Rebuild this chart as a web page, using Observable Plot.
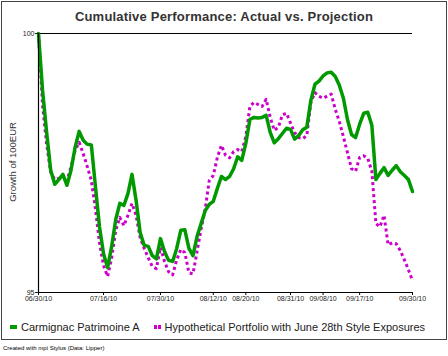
<!DOCTYPE html>
<html><head><meta charset="utf-8">
<script src="https://cdn.jsdelivr.net/npm/d3@7"></script>
<script src="https://cdn.jsdelivr.net/npm/@observablehq/plot@0.6"></script>
<style>
body{margin:0;background:#fff;font-family:Arial,"Liberation Sans",sans-serif;}
#wrap{position:relative;width:448px;height:356px;overflow:hidden;}
#frame{position:absolute;left:1px;top:1px;width:444px;height:337px;border:1px solid #444;}
#title{position:absolute;left:0;top:9px;width:448px;text-align:center;font-weight:bold;font-size:13px;color:#333;letter-spacing:0.2px;}
#ylab{position:absolute;left:12px;top:162px;transform:translate(-50%,-50%) rotate(-90deg);font-size:9.5px;color:#333;white-space:nowrap;}
#chart{position:absolute;left:0;top:0;}
#legend{position:absolute;left:10px;top:319px;font-size:11px;color:#222;white-space:nowrap;}
#legend span.item{display:inline-flex;align-items:center;margin-right:14px;}
#legend i{display:inline-block;width:7px;height:4px;margin-right:4px;}
#caption{position:absolute;left:3px;top:345px;font-size:6px;color:#000;}
</style></head>
<body>
<div id="wrap">
<div id="frame"></div>
<div id="title">Cumulative Performance: Actual vs. Projection</div>
<div id="ylab">Growth of 100EUR</div>
<div id="chart"></div>
<div id="legend"></div>
<div id="caption">Created with mpi Stylus (Data: Lipper)</div>
</div>
<script>
const seriesNames = ["Carmignac Patrimoine A", "Hypothetical Portfolio with June 28th Style Exposures"];
const seriesColors = ["#009900", "#cc00cc"];
const startDate = "2010-06-30";
const endDate = "2010-09-30";
const tickDates = ["2010-06-30","2010-07-16","2010-07-30","2010-08-12","2010-08-20","2010-08-31","2010-09-08","2010-09-17","2010-09-30"];
const yTicks = [95, 100];

// daily values, 06/30/10 .. 09/30/10
const actual = [
100.00,98.90,98.09,97.36,97.09,97.18,97.28,97.07,97.36,97.80,
98.11,97.94,97.86,97.85,97.05,96.27,95.75,95.48,95.89,96.41,
96.72,96.68,96.91,97.28,96.78,96.16,95.91,95.89,95.71,95.65,
96.04,95.79,95.62,95.60,95.85,96.20,96.21,95.85,95.71,96.08,
96.33,96.58,96.70,96.76,97.01,97.24,97.18,97.24,97.39,97.62,
97.55,97.88,98.34,98.38,98.37,98.38,98.42,98.09,97.89,97.97,
98.07,98.17,98.15,97.96,98.03,98.14,98.19,98.71,99.02,99.08,
99.18,99.24,99.25,99.17,99.00,98.75,98.34,98.05,97.99,98.25,
98.46,98.48,98.23,97.18,97.30,97.41,97.26,97.36,97.45,97.33,
97.26,97.18,96.95];
const projection = [
100.00,98.61,97.86,97.32,97.18,97.20,97.26,97.16,97.43,97.74,
97.90,97.68,97.43,97.16,96.62,95.96,95.52,95.31,95.67,96.20,
96.45,96.29,96.49,96.72,96.49,96.06,95.85,95.67,95.50,95.46,
95.87,95.60,95.40,95.34,95.63,95.83,95.77,95.38,95.36,95.79,
96.23,96.60,97.16,97.26,97.61,97.84,97.65,97.60,97.72,97.76,
97.72,98.01,98.59,98.67,98.63,98.59,98.73,98.38,98.13,98.19,
98.43,98.46,98.27,98.09,97.99,97.97,98.03,98.67,98.86,98.79,
98.75,98.79,98.83,98.54,98.30,98.01,97.70,97.39,97.34,97.61,
97.64,97.59,97.34,96.33,96.27,96.49,95.92,95.96,95.94,95.81,
95.63,95.44,95.23];

const days = d3.utcDay.range(new Date(startDate), d3.utcDay.offset(new Date(endDate), 1));
const rowsA = days.map((d, i) => ({date: d, value: actual[i]}));
const rowsP = days.map((d, i) => ({date: d, value: projection[i]}));
const fmt = d3.utcFormat("%m/%d/%y");

const chart = Plot.plot({
  width: 448,
  height: 312,
  marginTop: 33,
  marginBottom: 20,
  marginLeft: 38,
  marginRight: 36,
  style: {background: "transparent", fontFamily: "Arial, 'Liberation Sans', sans-serif", color: "#222", overflow: "visible"},
  x: {type: "utc", domain: [new Date(startDate), new Date(endDate)], axis: null},
  y: {domain: [95, 100], axis: null},
  marks: [
    Plot.ruleY([100], {stroke: "#000", strokeWidth: 1.2}),
    Plot.lineY(rowsP, {x: "date", y: "value", stroke: seriesColors[1], strokeWidth: 3, strokeDasharray: "3,3", strokeLinecap: "butt"}),
    Plot.lineY(rowsA, {x: "date", y: "value", stroke: seriesColors[0], strokeWidth: 3.5}),
    Plot.ruleX([new Date(startDate)], {stroke: "#000", strokeWidth: 1.2}),
    Plot.ruleY([95], {stroke: "#000", strokeWidth: 1.2}),
    Plot.axisX(tickDates.map(s => new Date(s)), {anchor: "bottom", label: null, tickSize: 3, tickPadding: 1, tickFormat: fmt, fontSize: 7, stroke: "#000"}),
    Plot.axisY(yTicks, {anchor: "left", label: null, tickSize: 3, tickPadding: 1, fontSize: 7, tickFormat: d => String(d)})
  ]
});
document.getElementById("chart").appendChild(chart);

const legend = document.getElementById("legend");
seriesNames.forEach((name, i) => {
  const s = document.createElement("span");
  s.className = "item";
  const m = document.createElement("i");
  m.style.background = i === 0 ? seriesColors[0] : `repeating-linear-gradient(90deg, ${seriesColors[1]} 0 3px, transparent 3px 4px)`;
  s.appendChild(m);
  s.appendChild(document.createTextNode(name));
  legend.appendChild(s);
});
</script>
</body></html>
